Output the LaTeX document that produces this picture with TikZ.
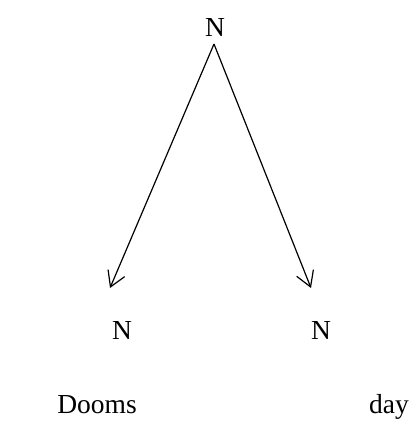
\documentclass[tikz,border=0pt]{standalone}
\usepackage{fontspec}
\setmainfont{Liberation Serif}
\usetikzlibrary{arrows.meta}

\begin{document}
\begin{tikzpicture}[x=1pt,y=-1pt,
    lbl/.style={font=\fontsize{27.5}{32}\selectfont,inner sep=0pt,anchor=base},
    arr/.style={-{Straight Barb[length=15pt,width=18pt]},line width=1.2pt}]
  \useasboundingbox (0,0) rectangle (419,441);
  \node[lbl] (top) at (215,37){N};
  \node[lbl] (left) at (122,339){N};
  \node[lbl] (right) at (321,339){N};
  \node[lbl] (dooms) at (97,413){Dooms};
  \node[lbl] (day) at (389,413){day};
  % arrow ends stop short of the lower N's
  \coordinate (apex) at (214,44);
  \coordinate (ltip) at (110,288);
  \coordinate (rtip) at (311,288);
  \draw[arr] (apex) -- (ltip);
  \draw[arr] (apex) -- (rtip);
\end{tikzpicture}
\end{document}
